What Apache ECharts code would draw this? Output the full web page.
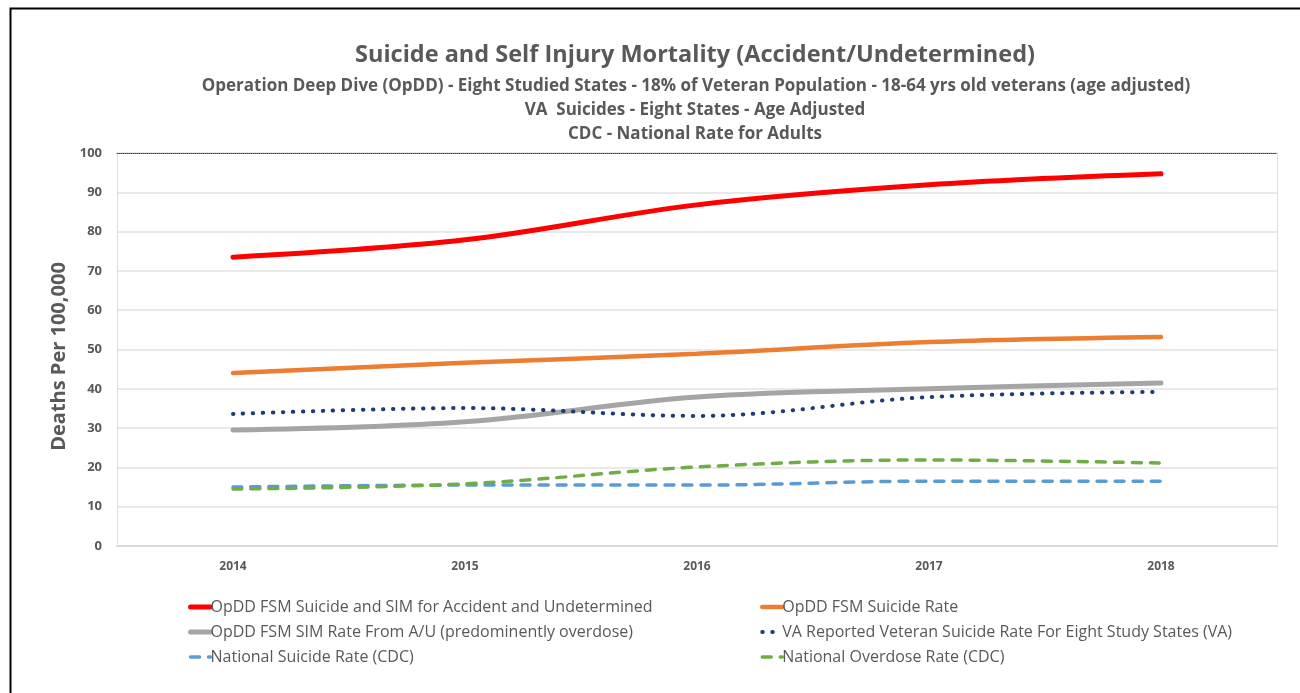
<!DOCTYPE html>
<html>
<head>
<meta charset="utf-8">
<script src="https://cdn.jsdelivr.net/npm/echarts@6/dist/echarts.min.js"></script>
<style>
  html, body { margin: 0; padding: 0; background: #fff; }
  #chart { width: 1300px; height: 693px; }
</style>
</head>
<body>
<div id="chart"></div>
<script>
var years = ['2014', '2015', '2016', '2017', '2018'];
var yTicks = [0, 10, 20, 30, 40, 50, 60, 70, 80, 90, 100];

var opddTotal = [73.5, 77.9, 86.8, 91.9, 94.7];
var opddSuicide = [44.0, 46.6, 48.9, 51.9, 53.2];
var opddSim = [29.5, 31.6, 37.9, 40.0, 41.5];
var vaReported = [33.6, 35.1, 33.1, 37.9, 39.2];
var cdcSuicide = [15.0, 15.5, 15.5, 16.5, 16.5];
var cdcOverdose = [14.5, 15.8, 20.1, 21.9, 21.1];

var names = [
    'OpDD FSM Suicide and SIM for Accident and Undetermined',
    'OpDD FSM Suicide Rate',
    'OpDD FSM SIM Rate From A/U (predominently overdose)',
    'VA Reported Veteran Suicide Rate For Eight Study States (VA)',
    'National Suicide Rate (CDC)',
    'National Overdose Rate (CDC)'
];
var widths = [5, 4.5, 5, 4, 3.5, 3.5];

var font = '"Open Sans", sans-serif';
var grey = '#595959';

function line(i, data, color, type) {
    return {
        name: names[i], type: 'line', data: data, smooth: 0.35,
        symbol: 'none',
        lineStyle: { color: color, width: widths[i], type: type || 'solid', cap: 'round' },
        itemStyle: { color: color }
    };
}

function legendBox(left, idx) {
    return {
        orient: 'vertical', left: left, top: 594, itemGap: 9, itemWidth: 20, itemHeight: 16,
        data: idx.map(function (i) { return { name: names[i], lineStyle: { width: widths[i] } }; }),
        itemStyle: { opacity: 0, borderWidth: 0 },
        textStyle: { fontFamily: font, fontSize: 16, color: grey, padding: [0, 0, 0, -5] }
    };
}

var chart = echarts.init(document.getElementById('chart'));
chart.setOption({
    backgroundColor: '#fff',
    animation: false,
    textStyle: { fontFamily: font },
    title: [
        { text: 'Suicide and Self Injury Mortality (Accident/Undetermined)', left: 690, textAlign: 'center', top: 38,
          textStyle: { fontFamily: font, fontSize: 23.5, fontWeight: 'bold', color: grey } },
        { text: 'Operation Deep Dive (OpDD) - Eight Studied States - 18% of Veteran Population - 18-64 yrs old veterans (age adjusted)',
          left: 691, textAlign: 'center', top: 73, textStyle: { fontFamily: font, fontSize: 17, fontWeight: 'bold', color: grey } },
        { text: 'VA  Suicides - Eight States - Age Adjusted', left: 690, textAlign: 'center', top: 97,
          textStyle: { fontFamily: font, fontSize: 17, fontWeight: 'bold', color: grey } },
        { text: 'CDC - National Rate for Adults', left: 690, textAlign: 'center', top: 121,
          textStyle: { fontFamily: font, fontSize: 17, fontWeight: 'bold', color: grey } }
    ],
    graphic: [{
        type: 'rect', left: 8, top: 6, shape: { width: 1320, height: 720 },
        style: { fill: 'none', stroke: '#000', lineWidth: 2 }, silent: true
    }],
    legend: [
        legendBox(183, [0, 2, 4]),
        legendBox(755, [1, 3, 5])
    ],
    grid: { left: 117, right: 23, top: 153, bottom: 147, containLabel: false },
    xAxis: [
        { type: 'category', data: years, boundaryGap: true,
          axisLine: { onZero: false, lineStyle: { color: '#d9d9d9', width: 2 } }, axisTick: { show: false },
          axisLabel: { margin: 15, fontSize: 12, fontWeight: 'bold', color: grey, fontFamily: font } },
        { type: 'category', data: years, position: 'top', boundaryGap: true,
          axisLine: { onZero: false, lineStyle: { color: '#404040', width: 1, type: 'dotted' } },
          axisTick: { show: false }, axisLabel: { show: false } }
    ],
    yAxis: [
        { type: 'value', min: yTicks[0], max: yTicks[yTicks.length - 1], interval: 10,
          name: 'Deaths Per 100,000', nameLocation: 'middle', nameGap: 36,
          nameTextStyle: { fontFamily: font, fontSize: 20, fontWeight: 'bold', color: grey, padding: [0, 14, 0, 0] },
          axisLine: { show: true, onZero: false, lineStyle: { color: '#d9d9d9', type: 'dotted' } },
          axisTick: { show: false },
          axisLabel: { margin: 15, fontSize: 13, fontWeight: 'bold', color: grey, fontFamily: font },
          splitLine: { lineStyle: { color: '#e3e3e3', width: 1.5 } } },
        { type: 'value', min: 0, max: 100, interval: 10, position: 'right',
          axisLine: { show: true, onZero: false, lineStyle: { color: '#d9d9d9', type: 'dotted' } },
          axisTick: { show: false }, axisLabel: { show: false }, splitLine: { show: false } }
    ],
    series: [
        line(4, cdcSuicide, '#5b9bd5', [9, 9]),
        line(5, cdcOverdose, '#70ad47', [9, 9]),
        line(2, opddSim, '#a5a5a5'),
        line(3, vaReported, '#1f3d73', [0.5, 9.5]),
        line(1, opddSuicide, '#ed7d31'),
        line(0, opddTotal, '#ff0000')
    ]
});
</script>
</body>
</html>
